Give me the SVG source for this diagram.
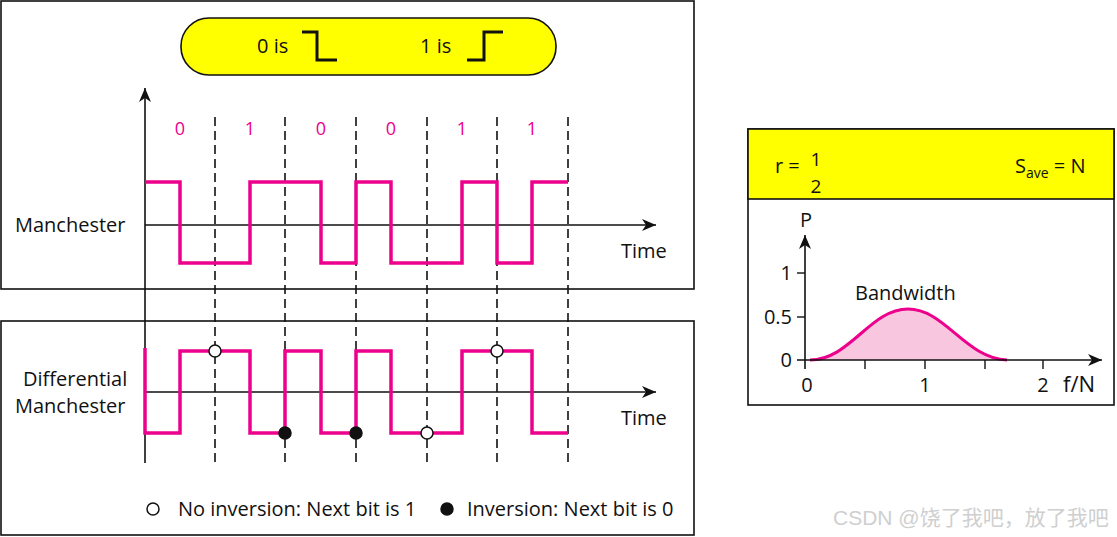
<svg xmlns="http://www.w3.org/2000/svg" width="1117" height="537" viewBox="0 0 1117 537">
<style>
text{font-family:"Open Sans","Liberation Sans",sans-serif;font-size:20px;fill:#111}
.box{fill:#fff;stroke:#111;stroke-width:1.6}
.ax{stroke:#111;stroke-width:1.6;fill:none}
.dash{stroke:#111;stroke-width:1.6;stroke-dasharray:9 5;fill:none}
.sig{stroke:#ec008c;stroke-width:3.5;fill:none;stroke-linejoin:miter}
.bit{fill:#ec008c;font-size:18px;text-anchor:middle}
.step{stroke:#111;stroke-width:3;fill:none}
.open{fill:#fff;stroke:#111;stroke-width:1.5}
.dot{fill:#111;stroke:#111;stroke-width:1.5}
.tk{stroke:#111;stroke-width:1.4}
.ylab{text-anchor:end}
.xlab{text-anchor:middle}
.frac{text-anchor:middle;font-size:19px}
</style>
<defs>
<marker id="arr" markerWidth="16" markerHeight="14" refX="14" refY="7" orient="auto" markerUnits="userSpaceOnUse">
<path d="M0,1 L14,7 L0,13 L4,7 z" fill="#111"/>
</marker>
</defs>
<g id="manchester-panel">
<rect class="box" x="1" y="1" width="693" height="288"/>
<g id="legend-pill">
<rect x="181" y="18" width="375" height="57" rx="28" ry="28" fill="#ffff00" stroke="#111" stroke-width="1.6"/>
<text x="257" y="53">0 is</text>
<path class="step" d="M302,32 H317 V60 H337"/>
<text x="420" y="53">1 is</text>
<path class="step" d="M467,60 H484 V32 H503"/>
</g>
<text x="15" y="232">Manchester</text>
<text x="621" y="258">Time</text>
</g>
<g id="diff-panel">
<rect class="box" x="1" y="321" width="693" height="214"/>
<text x="23" y="386">Differential</text>
<text x="15" y="413">Manchester</text>
<text x="621" y="425">Time</text>
<g id="legend">
<circle class="open" cx="153" cy="509" r="6"/>
<text x="178" y="516">No inversion: Next bit is 1</text>
<circle class="dot" cx="447" cy="509" r="6"/>
<text x="467" y="516">Inversion: Next bit is 0</text>
</g>
</g>
<g id="connectors">
<line class="ax" x1="145" y1="463" x2="145" y2="88" marker-end="url(#arr)"/>
<line class="ax" x1="145" y1="225" x2="656" y2="225" marker-end="url(#arr)"/>
<line class="ax" x1="145" y1="392" x2="656" y2="392" marker-end="url(#arr)"/>
<g id="bit-boundaries">
<line class="dash" x1="215" y1="117" x2="215" y2="463"/>
<line class="dash" x1="285" y1="117" x2="285" y2="463"/>
<line class="dash" x1="356" y1="117" x2="356" y2="463"/>
<line class="dash" x1="427" y1="117" x2="427" y2="463"/>
<line class="dash" x1="497" y1="117" x2="497" y2="463"/>
<line class="dash" x1="568" y1="117" x2="568" y2="463"/>
</g>
</g>
<g id="bits">
<text class="bit" x="180" y="135">0</text>
<text class="bit" x="250" y="135">1</text>
<text class="bit" x="321" y="135">0</text>
<text class="bit" x="391" y="135">0</text>
<text class="bit" x="462" y="135">1</text>
<text class="bit" x="532" y="135">1</text>
</g>
<g id="manchester-signal">
<path class="sig" d="M145,182 H180 V263 H250 V182 H321 V263 H356 V182 H391 V263 H462 V182 H497 V263 H532 V182 H568"/>
</g>
<g id="diff-signal">
<path class="sig" d="M145,348 V433 H180 V351 H250 V433 H285 V351 H321 V433 H356 V351 H391 V433 H462 V351 H532 V433 H568"/>
<circle class="open" cx="215" cy="351" r="6"/>
<circle class="open" cx="497" cy="351" r="6"/>
<circle class="open" cx="427" cy="433" r="6"/>
<circle class="dot" cx="285" cy="433" r="6"/>
<circle class="dot" cx="356" cy="433" r="6"/>
</g>
<g id="spectrum-panel">
<rect class="box" x="748" y="129" width="366" height="276"/>
<rect x="748" y="129" width="366" height="70" fill="#ffff00" stroke="#111" stroke-width="1.6"/>
<text x="775" y="173">r =</text>
<text class="frac" x="816" y="166">1</text>
<text class="frac" x="816" y="193">2</text>
<text x="1015" y="173">S<tspan font-size="14" dy="5">ave</tspan><tspan dy="-5"> = N</tspan></text>
<path d="M810,360 C850,360 870,309 908,309 C945,309 965,358 1007,360 Z" fill="#f9c6df"/>
<path d="M810,360 C850,360 870,309 908,309 C945,309 965,358 1007,360" stroke="#ec008c" stroke-width="3" fill="none"/>
<line class="ax" x1="805" y1="369" x2="805" y2="235" marker-end="url(#arr)"/>
<line class="ax" x1="797" y1="360" x2="1102" y2="360" marker-end="url(#arr)"/>
<line class="tk" x1="797" y1="273" x2="805" y2="273"/>
<line class="tk" x1="797" y1="317" x2="805" y2="317"/>
<line class="tk" x1="865" y1="360" x2="865" y2="369"/>
<line class="tk" x1="925" y1="360" x2="925" y2="369"/>
<line class="tk" x1="985" y1="360" x2="985" y2="369"/>
<line class="tk" x1="1043" y1="360" x2="1043" y2="369"/>
<text class="xlab" x="806" y="227">P</text>
<text class="ylab" x="792" y="280">1</text>
<text class="ylab" x="792" y="324">0.5</text>
<text class="ylab" x="792" y="367">0</text>
<text class="xlab" x="807" y="392">0</text>
<text class="xlab" x="925" y="392">1</text>
<text class="xlab" x="1043" y="392">2</text>
<text x="1063" y="392" style="font-size:22px">f/N</text>
<text x="855" y="300">Bandwidth</text>
</g>
<text x="833" y="525" style="font-family:'Liberation Sans','Noto Sans CJK SC',sans-serif;font-size:21px;fill:#cfcfcf">CSDN @饶了我吧，放了我吧</text>
</svg>
